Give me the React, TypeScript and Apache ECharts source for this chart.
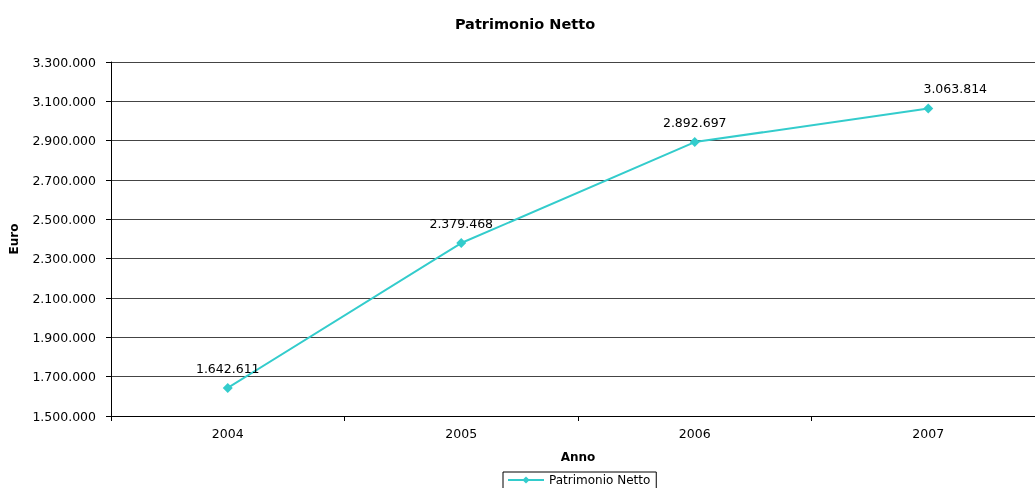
import React, { useEffect, useRef } from "react";
import * as echarts from "echarts";

const years = ["2004", "2005", "2006", "2007"];
const patrimonio = [1642611, 2379468, 2892697, 3063814];
const seriesName = "Patrimonio Netto";
const yMin = 1500000;
const yMax = 3300000;
const yStep = 200000;

const fmt = (v: number) => String(Math.round(v)).replace(/\B(?=(\d{3})+(?!\d))/g, ".");

export default function App() {
  const ref = useRef<HTMLDivElement>(null);
  useEffect(() => {
    document.body.style.margin = "0";
    const chart = echarts.init(ref.current!, null, { renderer: "svg" });
    const font = "DejaVu Sans, sans-serif";
    const lastIdx = patrimonio.length - 1;
    chart.setOption({
      animation: false,
      textStyle: { fontFamily: font },
      title: {
        text: "Patrimonio Netto",
        left: 520,
        top: 11,
        textAlign: "center",
        textStyle: { fontSize: 14.5, fontWeight: "bold", color: "#000", fontFamily: font },
      },
      legend: {
        data: [seriesName],
        top: 472,
        left: 503,
        itemWidth: 36,
        itemHeight: 9,
        itemGap: 4,
        borderColor: "#000",
        borderWidth: 1,
        borderRadius: 0,
        padding: [2, 6, 6, 4],
        textStyle: { fontSize: 12, color: "#000", fontFamily: font },
      },
      grid: { left: 106, top: 62, width: 939, height: 354, containLabel: false },
      xAxis: {
        type: "category",
        data: years,
        boundaryGap: true,
        name: "Anno",
        nameLocation: "middle",
        nameGap: 35,
        nameTextStyle: { fontSize: 12, fontWeight: "bold", color: "#000", fontFamily: font },
        axisLine: { lineStyle: { color: "#000" } },
        axisTick: { show: true, alignWithLabel: false, length: 5, lineStyle: { color: "#000" } },
        axisLabel: { fontSize: 12.5, color: "#000", margin: 11, fontFamily: font },
        splitLine: { show: false },
      },
      yAxis: {
        type: "value",
        min: yMin,
        max: yMax,
        interval: yStep,
        name: "Euro",
        nameLocation: "middle",
        nameGap: 91,
        nameRotate: 90,
        nameTextStyle: { fontSize: 12, fontWeight: "bold", color: "#000", fontFamily: font },
        axisLine: { show: true, lineStyle: { color: "#000" } },
        axisTick: { show: true, length: 5, lineStyle: { color: "#000" } },
        axisLabel: { fontSize: 12.5, color: "#000", margin: 15, formatter: (v: number) => fmt(v), fontFamily: font },
        splitLine: { show: true, lineStyle: { color: "#444", width: 1 } },
      },
      series: [
        {
          name: seriesName,
          type: "line",
          data: patrimonio.map((v, i) => (i === lastIdx ? { value: v, label: { offset: [27, 0] } } : v)),
          symbol: "diamond",
          symbolSize: 10,
          color: "#33CCCC",
          lineStyle: { color: "#33CCCC", width: 2 },
          itemStyle: { color: "#33CCCC" },
          label: {
            show: true,
            position: "top",
            distance: 8,
            fontSize: 12.5,
            color: "#000",
            fontFamily: font,
            formatter: (p: any) => fmt(p.value),
          },
        },
      ],
    });
    return () => chart.dispose();
  }, []);
  return (
    <div style={{ width: 1035, height: 488, overflow: "hidden", position: "fixed", left: 0, top: 0 }}>
      <div ref={ref} style={{ width: 1060, height: 488 }} />
    </div>
  );
}
